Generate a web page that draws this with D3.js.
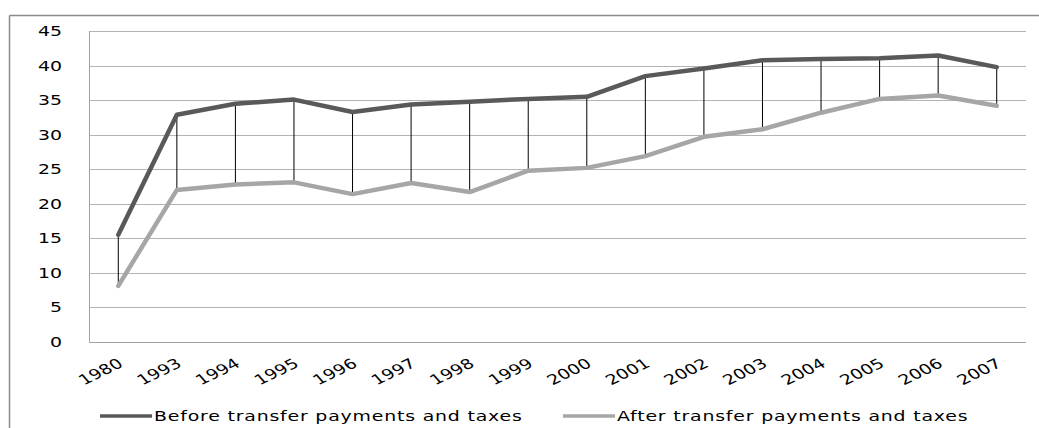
<!DOCTYPE html>
<html>
<head>
<meta charset="utf-8">
<script src="https://cdn.jsdelivr.net/npm/d3@7"></script>
<style>
  body { margin: 0; background: #fff; }
  svg text { font-family: "DejaVu Sans", Verdana, sans-serif; fill: #000; }
</style>
</head>
<body>
<svg id="chart" width="1039" height="428"></svg>
<script>
const years = ["1980", "1993", "1994", "1995", "1996", "1997", "1998", "1999",
  "2000", "2001", "2002", "2003", "2004", "2005", "2006", "2007"]
const beforeTax = [15.5, 32.9, 34.5, 35.1, 33.3, 34.4, 34.8, 35.2, 35.5, 38.5, 39.6, 40.8, 41.0, 41.1, 41.5, 39.8]
const afterTax = [8.1, 22.0, 22.8, 23.1, 21.4, 23.0, 21.7, 24.8, 25.2, 26.9, 29.7, 30.8, 33.2, 35.2, 35.7, 34.2]
const yTicks = [0, 5, 10, 15, 20, 25, 30, 35, 40, 45]
const seriesNames = ["Before transfer payments and taxes", "After transfer payments and taxes"]

const svg = d3.select("#chart")
const plotL = 89, plotR = 1026, plotT = 31.3, plotB = 341.7
const stretch = 1.35 // the original picture is widened, text included

const x = d3.scaleBand().domain(years).range([plotL, plotR])
const y = d3.scaleLinear().domain([0, 45]).range([plotB, plotT])
const cx = (d) => x(d) + x.bandwidth() / 2

// outer frame (only top and left visible)
svg.append("line").attr("x1", 9.5).attr("x2", 1039).attr("y1", 15.5).attr("y2", 15.5)
  .attr("stroke", "#8c8c8c").attr("stroke-width", 1.5)
svg.append("line").attr("x1", 9.5).attr("x2", 9.5).attr("y1", 15.5).attr("y2", 428)
  .attr("stroke", "#8c8c8c").attr("stroke-width", 1.5)

// gridlines
svg.append("g").selectAll("line").data(yTicks.slice(1)).enter().append("line")
  .attr("x1", plotL).attr("x2", plotR)
  .attr("y1", (d) => Math.round(y(d)) + 0.5).attr("y2", (d) => Math.round(y(d)) + 0.5)
  .attr("stroke", "#b4b4b4")

// axes lines
svg.append("line").attr("x1", plotL).attr("x2", plotR)
  .attr("y1", Math.round(plotB) + 0.5).attr("y2", Math.round(plotB) + 0.5).attr("stroke", "#a0a0a0")
svg.append("line").attr("x1", plotL + 0.5).attr("x2", plotL + 0.5)
  .attr("y1", plotT).attr("y2", plotB).attr("stroke", "#a0a0a0")

// y labels
svg.append("g").selectAll("text").data(yTicks).enter().append("text")
  .attr("transform", (d) => "translate(62," + (y(d) + 5) + ") scale(" + stretch + ",1)")
  .attr("text-anchor", "end").style("font-size", "14px")
  .text((d) => d)

// x labels
svg.append("g").selectAll("text").data(years).enter().append("text")
  .attr("transform", (d) => "translate(" + (cx(d) + 6) + ",366) scale(" + stretch + ",1) rotate(-33)")
  .attr("text-anchor", "end").style("font-size", "14px")
  .text((d) => d)

// high-low drop lines
svg.append("g").selectAll("line").data(years).enter().append("line")
  .attr("x1", (d) => cx(d)).attr("x2", (d) => cx(d))
  .attr("y1", (d, i) => y(beforeTax[i])).attr("y2", (d, i) => y(afterTax[i]))
  .attr("stroke", "#000").attr("stroke-width", 1)

const line = d3.line().x((d, i) => cx(years[i])).y((d) => y(d))

svg.append("path").datum(afterTax).attr("d", line)
  .attr("fill", "none").attr("stroke", "#a6a6a6").attr("stroke-width", 4.5)
  .attr("stroke-linejoin", "round").attr("stroke-linecap", "round")
svg.append("path").datum(beforeTax).attr("d", line)
  .attr("fill", "none").attr("stroke", "#595959").attr("stroke-width", 4.5)
  .attr("stroke-linejoin", "round").attr("stroke-linecap", "round")

// legend
const legend = [
  { name: seriesNames[0], color: "#595959", x: 100 },
  { name: seriesNames[1], color: "#a6a6a6", x: 563 }
]
const lg = svg.append("g").selectAll("g").data(legend).enter().append("g")
  .attr("transform", (d) => "translate(" + d.x + ",416)")
lg.append("line").attr("x1", 0).attr("x2", 52).attr("y1", 0).attr("y2", 0)
  .attr("stroke", (d) => d.color).attr("stroke-width", 3.5)
lg.append("text").attr("transform", "translate(54,5) scale(" + stretch + ",1)")
  .style("font-size", "14px").style("letter-spacing", "0.6px")
  .text((d) => d.name)
</script>
</body>
</html>
